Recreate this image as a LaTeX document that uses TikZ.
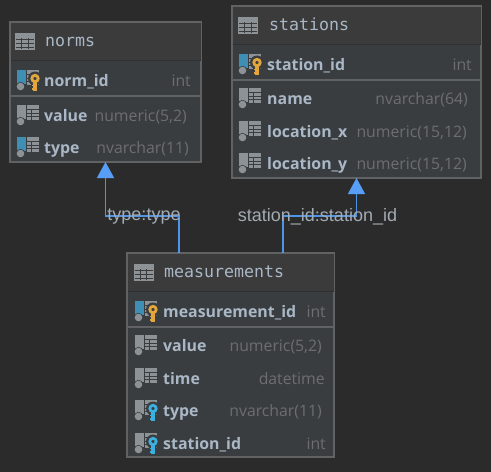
\documentclass[tikz,border=0pt]{standalone}
\usepackage{fontspec}
\setmainfont{Open Sans}
\newfontfamily\titlefont{DejaVu Sans Mono}
\newfontfamily\labelfont{Liberation Sans}
\usetikzlibrary{arrows.meta, positioning}
\definecolor{canvasgray}{HTML}{2B2B2B}
\definecolor{headgray}{HTML}{3C3B3B}
\definecolor{bodygray}{HTML}{3A3D40}
\definecolor{bordergray}{HTML}{606263}
\definecolor{sepdark}{HTML}{2F3031}
\definecolor{textblue}{HTML}{A9B7C6}
\definecolor{typegray}{HTML}{6C6E70}
\definecolor{iconsilver}{HTML}{8C9296}
\definecolor{barblue}{HTML}{3E8FB3}
\definecolor{keygold}{HTML}{E3A63C}
\definecolor{keycyan}{HTML}{3AB0E0}
\definecolor{linkblue}{HTML}{4E94E8}
\definecolor{tipblue}{HTML}{589DF6}
\definecolor{labelgray}{HTML}{A3ABB3}
\tikzset{
  tablebox/.style={draw=bordergray, fill=bodygray, line width=1.3pt, anchor=north west, inner sep=0pt, outer sep=0pt},
  tablehead/.style={fill=headgray, anchor=north west, inner sep=0pt, outer sep=0pt},
  tabletitle/.style={anchor=base west, inner sep=0pt, text=textblue, font=\titlefont\fontsize{16.6}{19}\selectfont},
  colname/.style={anchor=base west, inner sep=0pt, text=textblue, font=\fontsize{15.9}{18}\selectfont\bfseries},
  coltype/.style={anchor=base east, inner sep=0pt, text=typegray, font=\fontsize{15.8}{18}\selectfont},
  linklabel/.style={inner sep=0pt, text=labelgray, font=\labelfont\fontsize{18}{21}\selectfont},
  fklink/.style={draw=linkblue, line width=1.3pt, -{Triangle[width=17pt,length=16pt,color=tipblue]}},
  headsep/.style={draw=sepdark, line width=1.3pt},
  pksep/.style={draw=bordergray, line width=1.8pt}
}
\newcommand{\tableicon}[2]{%
  \fill[iconsilver] (#1,#2) rectangle ++(20,17);
  \foreach \gy in {6,10,14} \draw[headgray, line width=.8pt] (#1+1,#2+\gy) -- (#1+19,#2+\gy);
  \foreach \gx in {6.5,13} \draw[headgray, line width=.8pt] (#1+\gx,#2+5) -- (#1+\gx,#2+16);
}
\newcommand{\columnicon}[3]{%
  \fill[#3] (#1,#2-10) rectangle ++(8.5,14);
  \fill[bodygray] (#1+3.5,#2+6.5) circle (4.6pt);
  \fill[iconsilver] (#1+3.5,#2+6.5) circle (3.8pt);
  \fill[iconsilver] (#1+10,#2-10) rectangle ++(11.5,14.5);
  \foreach \gy in {-5.5,-2,1.5} \draw[bodygray, line width=.7pt] (#1+10,#2+\gy) -- (#1+21.5,#2+\gy);
  \draw[bodygray, line width=.7pt] (#1+14,#2-6) -- (#1+14,#2+4.5);
}
\newcommand{\keyicon}[3]{%
  \fill[bodygray] (#1+18,#2-1.5) circle (7pt);
  \draw[#3, line width=2.8pt] (#1+18,#2-1.5) circle (3.2pt);
  \draw[#3, line width=3.2pt] (#1+18,#2+1) -- (#1+18,#2+10.5);
  \draw[#3, line width=1.8pt] (#1+18,#2+5.5) -- (#1+15,#2+5.5);
  \draw[#3, line width=1.8pt] (#1+18,#2+9) -- (#1+15,#2+9);
}
\begin{document}
\begin{tikzpicture}[x=1pt, y=-1pt]
  \fill[canvasgray] (0,0) rectangle (491,472);
  \useasboundingbox (0,0) rectangle (491,472);

  % Tables
  \node[tablebox, minimum width=191pt, minimum height=140pt] (norms) at (10,22) {};
  \node[tablehead, minimum width=190pt, minimum height=38pt] (normshead) at (10.5,22.5) {};
  \node[tablebox, minimum width=249pt, minimum height=172pt] (stations) at (232,6) {};
  \node[tablehead, minimum width=248pt, minimum height=38pt] (stationshead) at (232.5,6.5) {};
  \node[tablebox, minimum width=207pt, minimum height=204pt] (measurements) at (127,253) {};
  \node[tablehead, minimum width=206pt, minimum height=38pt] (measurementshead) at (127.5,253.5) {};

  % Separators
  \draw[headsep] (normshead.south west) -- (normshead.south east);
  \draw[headsep] (stationshead.south west) -- (stationshead.south east);
  \draw[headsep] (measurementshead.south west) -- (measurementshead.south east);
  \draw[pksep] (11,96) -- (200,96);
  \draw[pksep] (233,80) -- (480,80);
  \draw[pksep] (128,327) -- (333,327);

  % Header icons and titles
  \tableicon{15}{33}
  \tableicon{238}{17}
  \tableicon{133.5}{264}
  \node[tabletitle] (normstitle) at (45,46.5) {norms};
  \node[tabletitle] (stationstitle) at (269,30) {stations};
  \node[tabletitle] (measurementstitle) at (164,277.5) {measurements};

  % Column icons
  \foreach \ix/\iy/\barcol in {17/80/barblue, 17/115/iconsilver, 17/147/barblue,
      239/64/barblue, 239/98/iconsilver, 239/131/iconsilver, 239/163/iconsilver,
      135/311/barblue, 135/345/iconsilver, 135/378/iconsilver, 135/410/iconsilver, 135/443/iconsilver}
    {\columnicon{\ix}{\iy}{\barcol}}
  \keyicon{17}{80}{keygold}
  \keyicon{239}{64}{keygold}
  \keyicon{135}{311}{keygold}
  \keyicon{135}{410}{keycyan}
  \keyicon{135}{443}{keycyan}

  % norms columns
  \node[colname] (normid) at (44,86) {norm\_id};
  \node[coltype] (normidtype) at (191,86) {int};
  \node[colname] (normvalue) at (44,121) {value};
  \node[coltype] (normvaluetype) at (187,121) {numeric(5,2)};
  \node[colname] (normkind) at (44,153) {type};
  \node[coltype] (normkindtype) at (189,153) {nvarchar(11)};

  % stations columns
  \node[colname] (stationid) at (267,70) {station\_id};
  \node[coltype] (stationidtype) at (472,70) {int};
  \node[colname] (stationname) at (267,104) {name};
  \node[coltype] (stationnametype) at (468,104) {nvarchar(64)};
  \node[colname] (locx) at (267,137) {location\_x};
  \node[coltype] (locxtype) at (467,137) {numeric(15,12)};
  \node[colname] (locy) at (267,169) {location\_y};
  \node[coltype] (locytype) at (467,169) {numeric(15,12)};

  % measurements columns
  \node[colname] (measid) at (163,317) {measurement\_id};
  \node[coltype] (measidtype) at (326,317) {int};
  \node[colname] (measvalue) at (163,351) {value};
  \node[coltype] (measvaluetype) at (322,351) {numeric(5,2)};
  \node[colname] (meastime) at (163,384) {time};
  \node[coltype] (meastimetype) at (325,384) {datetime};
  \node[colname] (measkind) at (163,416) {type};
  \node[coltype] (measkindtype) at (322,416) {nvarchar(11)};
  \node[colname] (measstation) at (163,449) {station\_id};
  \node[coltype] (measstationtype) at (326,449) {int};

  % Foreign keys
  \coordinate (typeport) at (179,253);
  \coordinate (stationport) at (283,253);
  \coordinate (typemid) at (144,216);
  \coordinate (stationmid) at (317.5,216);
  \draw[fklink] (typeport) |- (typemid) -| (norms.south);
  \draw[fklink] (stationport) |- (stationmid) -| (stations.south);
  \node[linklabel, yshift=-1pt] (typelabel) at (typemid) {type:type};
  \node[linklabel, yshift=-1pt] (stationlabel) at (stationmid) {station\_id:station\_id};
\end{tikzpicture}
\end{document}
